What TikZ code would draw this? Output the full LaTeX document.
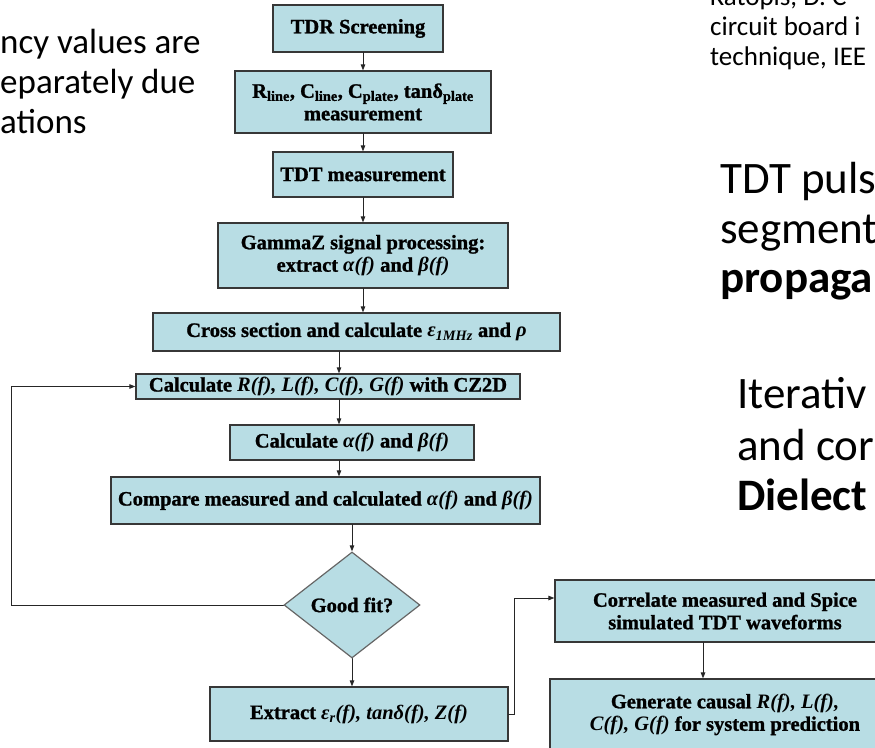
\documentclass[tikz,border=0pt]{standalone}
\usepackage{fontspec}
\setmainfont{Liberation Serif}[BoldFeatures={FakeBold=1.2}]
\newfontfamily\slidefont{Carlito}
\usetikzlibrary{shapes.geometric,arrows.meta}

\definecolor{vakblauw}{RGB}{184,221,228}
\definecolor{vakrand}{RGB}{55,55,55}

\begin{document}
\begin{tikzpicture}[x=1pt, y=-1pt, line cap=round]
  \tikzset{
    stap/.style={draw=vakrand, fill=vakblauw, line width=1.2pt, align=center,
      inner sep=1pt, font=\fontsize{20.5}{22.5}\selectfont\bfseries},
    keuze/.style={stap, diamond, draw=black!60, inner sep=0pt,
      minimum width=136pt, minimum height=106pt},
    pijl/.style={draw=black!85, line width=0.9pt, -{Triangle[length=6pt,width=4.5pt]}},
    tekst/.style={anchor=base west, inner sep=0pt, font=\slidefont\fontsize{35}{40}\selectfont},
    groot/.style={tekst, font=\slidefont\fontsize{45}{50}\selectfont},
    bron/.style={tekst, font=\slidefont\fontsize{27}{30}\selectfont},
  }
  \useasboundingbox (0,0) rectangle (875,747);
  \clip (0,0) rectangle (875,747);

  % tekst op de dia
  \node[tekst] (links1) at (0,53) {ncy values are};
  \node[tekst] (links2) at (0,93) {eparately due};
  \node[tekst] (links3) at (0,133) {ations};
  \node[bron] (bron1) at (710,5) {Katopis, D. C};
  \node[bron] (bron2) at (710,35) {circuit board i};
  \node[bron] (bron3) at (710,65) {technique, IEE};
  \node[groot] (rechts1) at (720,193) {TDT puls};
  \node[groot] (rechts2) at (720,243) {segment};
  \node[groot] (rechts3) at (720,292) {\bfseries propaga};
  \node[groot] (rechts4) at (737,408) {Iterativ};
  \node[groot] (rechts5) at (737,460) {and cor};
  \node[groot] (rechts6) at (737,510) {\bfseries Dielect};

  % vakken
  \node[stap, minimum width=170pt, minimum height=47pt] (tdr) at (358,28.5) {TDR Screening};
  \node[stap, minimum width=256pt, minimum height=62pt] (meting) at (363,102)
    {R\textsubscript{line}, C\textsubscript{line}, C\textsubscript{plate}, tanδ\textsubscript{plate}\\measurement};
  \node[stap, minimum width=180pt, minimum height=45pt] (tdt) at (363,174.5) {TDT measurement};
  \node[stap, minimum width=290pt, minimum height=65pt] (gammaz) at (363,255.5)
    {GammaZ signal processing:\\extract \textit{α(f)} and \textit{β(f)}};
  \node[stap, minimum width=407pt, minimum height=38pt] (doorsnede) at (356.5,332)
    {Cross section and calculate \textit{ε\textsubscript{1MHz}} and \textit{ρ}};
  \node[stap, minimum width=384pt, minimum height=25pt, inner sep=0pt] (rlcg) at (328,386.5)
    {Calculate \textit{R(f), L(f), C(f), G(f)} with CZ2D};
  \node[stap, minimum width=244pt, minimum height=35pt] (alfabeta) at (352,442.5)
    {Calculate \textit{α(f)} and \textit{β(f)}};
  \node[stap, minimum width=429pt, minimum height=47pt] (vergelijk) at (325.5,500.5)
    {Compare measured and calculated \textit{α(f)} and \textit{β(f)}};
  \node[keuze] (passing) at (352,605) {Good fit?};
  \node[stap, minimum width=298pt, minimum height=54pt] (extract) at (359,714)
    {Extract \textit{ε\textsubscript{r}(f), tanδ(f), Z(f)}};
  \node[stap, minimum width=340pt, minimum height=62pt] (spice) at (725,611)
    {Correlate measured and Spice\\simulated TDT waveforms};
  \node[stap, minimum width=350pt, minimum height=71pt] (causaal) at (725,714.5)
    {Generate causal \textit{R(f), L(f),}\\\textit{C(f), G(f)} for system prediction};

  % pijlen in de keten
  \coordinate (as) at (339,0);
  \draw[pijl] (tdr.south -| meting.north) -- (meting.north);
  \draw[pijl] (meting.south) -- (tdt.north);
  \draw[pijl] (tdt.south) -- (gammaz.north);
  \draw[pijl] (gammaz.south) -- (gammaz.south |- doorsnede.north);
  \draw[pijl] (doorsnede.south -| as) -- (rlcg.north -| as);
  \draw[pijl] (rlcg.south -| as) -- (alfabeta.north -| as);
  \draw[pijl] (alfabeta.south -| as) -- (vergelijk.north -| as);
  \draw[pijl] (vergelijk.south -| passing.north) -- (passing.north);
  \draw[pijl] (passing.south) -- (passing.south |- extract.north);
  \coordinate (neer) at (703,0);
  \draw[pijl] (spice.south -| neer) -- (causaal.north -| neer);

  % terugkoppeling en uitgang
  \coordinate (terug) at (11,605);
  \draw[pijl] (passing.west) -- (terug) |- (rlcg.west);
  \coordinate (uit) at (514,598);
  \draw[pijl] (extract.east) -| (uit) -- (uit -| spice.west);
\end{tikzpicture}
\end{document}
